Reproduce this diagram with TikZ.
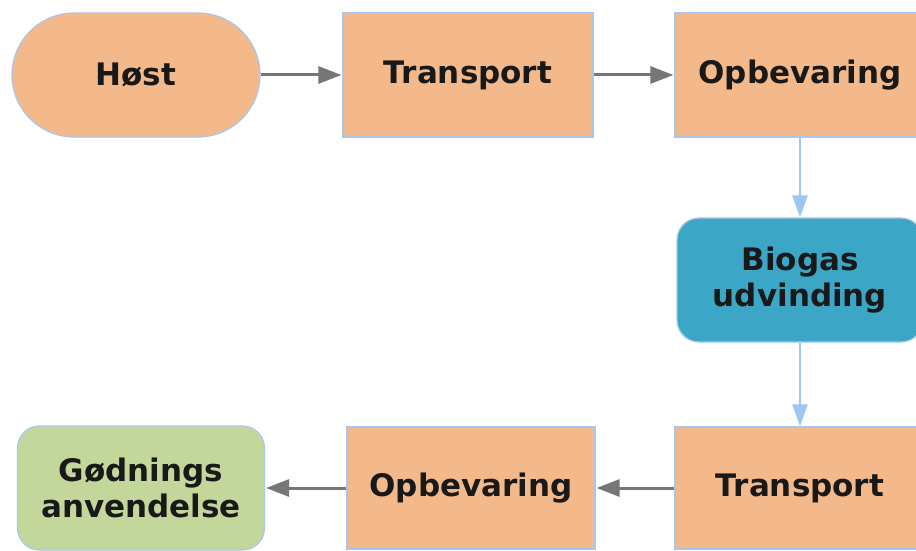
\documentclass[tikz,border=0pt]{standalone}
\usepackage{fontspec}
\setmainfont{DejaVu Sans}
\usetikzlibrary{arrows.meta}
\definecolor{peach}{HTML}{F4B98A}
\definecolor{edgeblue}{HTML}{A9C6EC}
\definecolor{teal}{HTML}{3BA6C6}
\definecolor{sage}{HTML}{C4D79B}
\definecolor{arrgray}{HTML}{767676}
\definecolor{arrblue}{HTML}{9CC6F3}
\tikzset{
  base/.style={draw=edgeblue, line width=1.2pt, inner sep=0pt, align=center,
    font=\fontsize{31}{36}\selectfont\bfseries, text=black!90},
  peachbox/.style={base, fill=peach, minimum width=250pt, minimum height=124pt},
  stadium/.style={base, fill=peach, minimum width=248pt, minimum height=124pt, rounded corners=62pt},
  tealbox/.style={base, fill=teal, minimum width=246pt, minimum height=124pt, rounded corners=22pt},
  sagebox/.style={base, fill=sage, minimum width=247pt, minimum height=124pt, rounded corners=22pt},
  grayarrow/.style={draw=arrgray, line width=3pt, shorten >=1pt, -{Triangle[length=23pt,width=17pt]}},
  bluearrow/.style={draw=arrblue, line width=2.5pt, -{Triangle[length=22pt,width=15pt]}}
}
\begin{document}
\begin{tikzpicture}[x=1pt,y=-1pt]
\path[use as bounding box, fill=white] (0,0) rectangle (916,551);
\begin{scope}
\clip (0,0) rectangle (916,551);
\node[stadium] (host) at (136,75) {Høst};
\node[peachbox] (trans1) at (468,75) {Transport};
\node[peachbox] (opb1) at (800,75) {Opbevaring};
\node[tealbox] (bio) at (800,280) {Biogas\\udvinding};
\node[peachbox, minimum height=122pt] (trans2) at (800,488) {Transport};
\node[peachbox, minimum width=248pt, minimum height=122pt] (opb2) at (471,488) {Opbevaring};
\node[sagebox] (god) at (141,488) {Gødnings\\anvendelse};
\draw[grayarrow] (host.east) -- (trans1.west);
\draw[grayarrow] (trans1.east) -- (opb1.west);
\draw[bluearrow] (opb1.south) -- (bio.north);
\draw[bluearrow] (bio.south) -- (trans2.north);
\draw[grayarrow] (trans2.west) -- (opb2.east);
\draw[grayarrow] (opb2.west) -- (god.east);
\end{scope}
\end{tikzpicture}
\end{document}
